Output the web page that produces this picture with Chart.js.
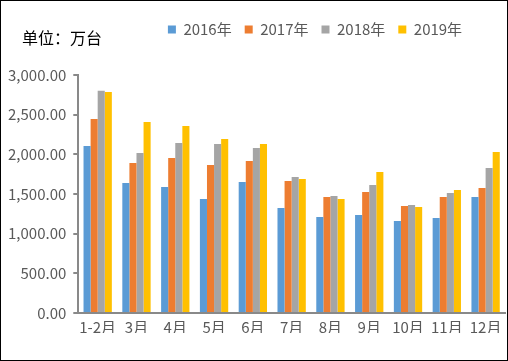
<!DOCTYPE html>
<html>
<head>
<meta charset="utf-8">
<script src="https://cdn.jsdelivr.net/npm/chart.js@4"></script>
<style>
  html, body { margin: 0; padding: 0; background: #fff; }
  #wrap { position: relative; width: 508px; height: 361px; box-sizing: border-box; border: 1px solid #000; }
  #unit { position: absolute; left: 21px; top: 24px; font: 16px "Noto Sans CJK SC", sans-serif; color: #000; }
</style>
</head>
<body>
<div id="wrap">
  <canvas id="c" width="506" height="359"></canvas>
  <div id="unit">单位：万台</div>
</div>
<script>
// 月份
const categories = ['1-2月', '3月', '4月', '5月', '6月', '7月', '8月', '9月', '10月', '11月', '12月'];
const seriesNames = ['2016年', '2017年', '2018年', '2019年'];
const colors = ['#5B9BD5', '#ED7D31', '#A5A5A5', '#FFC000'];

// 各年产量（万台）
const y2016 = [2106, 1639, 1589, 1438, 1652, 1324, 1211, 1236, 1160, 1198, 1463];
const y2017 = [2446, 1891, 1955, 1866, 1917, 1665, 1463, 1526, 1349, 1463, 1576];
const y2018 = [2800, 2018, 2144, 2131, 2081, 1715, 1476, 1614, 1362, 1513, 1829];
const y2019 = [2787, 2408, 2358, 2194, 2131, 1690, 1438, 1778, 1337, 1551, 2030];

const seriesValues = [y2016, y2017, y2018, y2019];
const axisColor = '#898989';
const textColor = '#595959';
const font = '"Noto Sans CJK SC", sans-serif';

// 图例右移、加高
const legendTweak = {
  id: 'legendTweak',
  beforeInit(chart) {
    const fit = chart.legend.fit;
    chart.legend.fit = function () {
      fit.bind(chart.legend)();
      this.height += 28;
    };
  },
  afterLayout(chart) {
    chart.legend.left += 62;
    chart.legend.right += 62;
  }
};

new Chart(document.getElementById('c'), {
  type: 'bar',
  data: {
    labels: categories,
    datasets: seriesNames.map((name, i) => ({
      label: name,
      data: seriesValues[i],
      backgroundColor: colors[i],
      categoryPercentage: 0.73,
      barPercentage: 1.0
    }))
  },
  options: {
    responsive: false,
    animation: false,
    layout: { padding: { top: 8, right: 2, left: 0, bottom: 27 } },
    plugins: {
      legend: {
        position: 'top',
        labels: {
          boxWidth: 8,
          boxHeight: 8,
          padding: 13,
          color: textColor,
          font: { family: font, size: 15 }
        }
      },
      tooltip: { enabled: false }
    },
    scales: {
      x: {
        grid: { display: false },
        border: { display: true, color: axisColor, width: 2 },
        ticks: { color: textColor, font: { family: font, size: 15 }, maxRotation: 0, autoSkip: false, padding: -3 }
      },
      y: {
        min: 0,
        max: 3000,
        grid: { display: true, drawOnChartArea: false, drawTicks: true, tickLength: 5, color: axisColor, lineWidth: 2 },
        border: { display: true, color: axisColor, width: 2 },
        ticks: {
          stepSize: 500,
          color: textColor,
          padding: 7,
          font: { family: font, size: 15 },
          callback: v => v.toLocaleString('en-US', { minimumFractionDigits: 2, maximumFractionDigits: 2 })
        }
      }
    }
  },
  plugins: [legendTweak]
});
</script>
</body>
</html>
